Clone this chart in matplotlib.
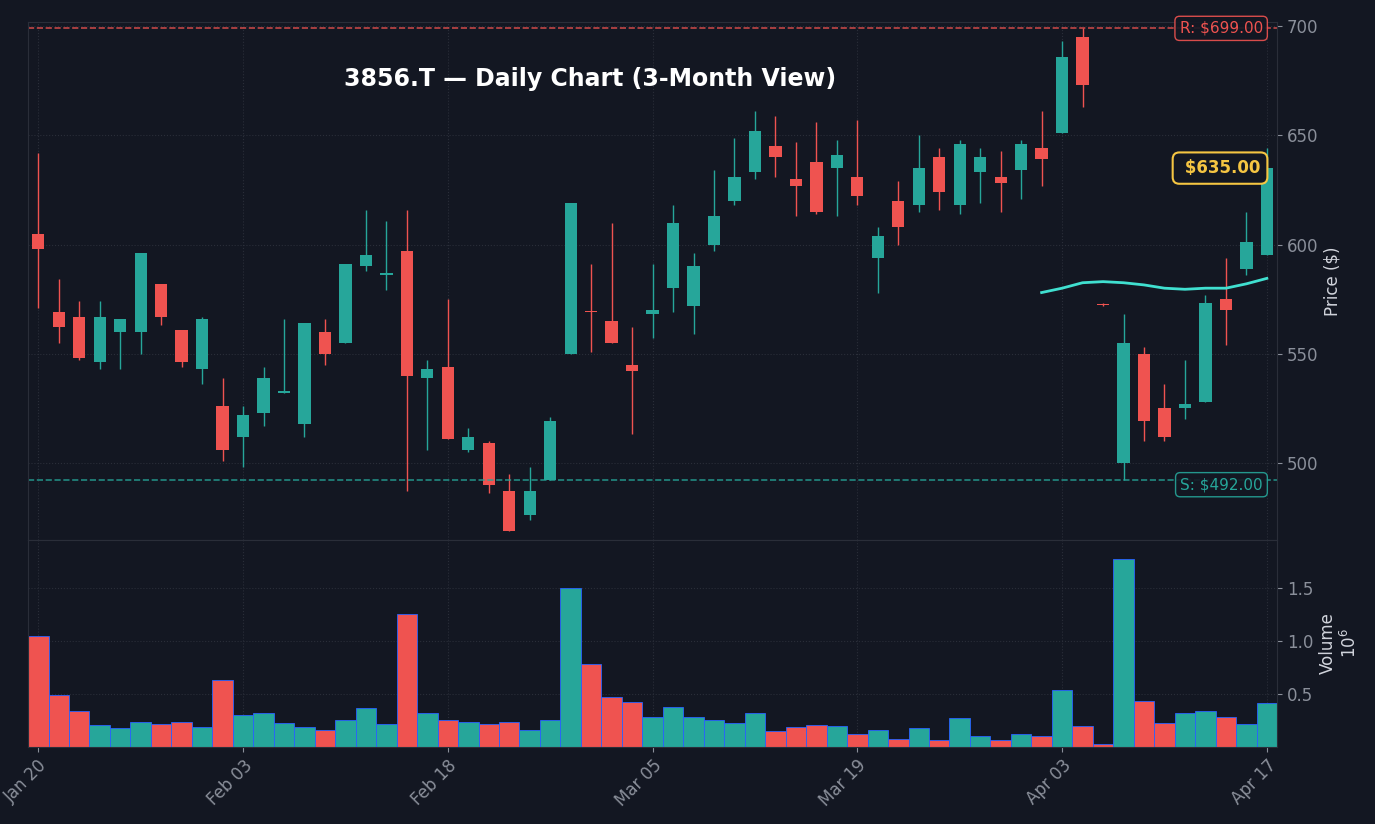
import numpy as np
import matplotlib.pyplot as plt

opens = [605, 569, 567, 546, 560, 560, 582, 561, 543, 526, 512, 523, 532, 518, 560, 555, 590, 586, 597, 539,
         544, 506, 509, 487, 476, 492, 550, 569.5, 565, 545, 568, 580, 572, 600, 620, 633, 645, 630, 638, 635,
         631, 594, 620, 618, 640, 618, 633, 631, 634, 644, 651, 695, 572.8, 500, 550, 525, 525, 528, 575, 589, 595]
closes = [598, 562, 548, 567, 566, 596, 567, 546, 566, 506, 522, 539, 533, 564, 550, 591, 595, 587, 540, 543,
          511, 512, 490, 469, 487, 519, 619, 569, 555, 542, 570, 610, 590, 613, 631, 652, 640, 627, 615, 641,
          622, 604, 608, 635, 624, 646, 640, 628, 646, 639, 686, 673, 572.5, 555, 519, 512, 527, 573, 570, 601, 635]
highs = [642, 584, 574, 574, 566, 596, 582, 561, 567, 539, 526, 544, 566, 564, 566, 591, 616, 611, 616, 547,
         575, 516, 510, 495, 498, 521, 619, 591, 610, 562, 591, 618, 596, 634, 649, 661, 659, 647, 656, 648,
         657, 608, 629, 650, 644, 648, 644, 643, 648, 661, 693, 699, 573, 568, 553, 536, 547, 577, 594, 615, 644]
lows = [571, 555, 547, 543, 543, 550, 563, 544, 536, 501, 498, 517, 532, 512, 545, 555, 588, 579, 487, 506,
        511, 505, 486, 469, 474, 492, 550, 551, 555, 513, 557, 569, 559, 597, 618, 630, 631, 613, 614, 613,
        618, 578, 600, 615, 616, 614, 619, 615, 621, 627, 651, 663, 572, 492, 510, 510, 520, 528, 554, 586, 595]
volumes = [1.04, 0.49, 0.34, 0.21, 0.18, 0.24, 0.22, 0.24, 0.19, 0.63, 0.30, 0.32, 0.23, 0.19, 0.16, 0.25,
           0.37, 0.22, 1.25, 0.32, 0.25, 0.24, 0.22, 0.24, 0.16, 0.25, 1.50, 0.78, 0.47, 0.42, 0.28, 0.38,
           0.28, 0.25, 0.23, 0.32, 0.15, 0.19, 0.21, 0.20, 0.12, 0.16, 0.08, 0.18, 0.07, 0.27, 0.10, 0.07,
           0.12, 0.10, 0.54, 0.20, 0.03, 1.77, 0.43, 0.23, 0.32, 0.34, 0.28, 0.22, 0.41]
ma_start = 49
ma_values = [578, 580, 582.5, 583, 582.5, 581.5, 580, 579.5, 580, 580, 582, 584.5]
tick_idx = [0, 10, 20, 30, 40, 50, 60]
tick_labels = ['Jan 20', 'Feb 03', 'Feb 18', 'Mar 05', 'Mar 19', 'Apr 03', 'Apr 17']
resistance, support, last_price = 699.0, 492.0, 635.0

bg = '#131722'
up, down = '#26a69a', '#ef5350'
grid_c = '#2a2e39'
txt = '#8a8f9a'

fig = plt.figure(figsize=(13.75, 8.24), dpi=100, facecolor=bg)
ax = fig.add_axes([0.0204, 0.345, 0.9084, 0.628])
axv = fig.add_axes([0.0204, 0.0934, 0.9084, 0.2516], sharex=ax)
for a in (ax, axv):
    a.set_facecolor(bg)
    a.set_axisbelow(True)
    for s in a.spines.values():
        s.set_color(grid_c)
    a.grid(True, color=grid_c, linestyle=':', linewidth=0.8)
    a.yaxis.tick_right()
    a.yaxis.set_label_position('right')
    a.tick_params(colors=txt, labelsize=12)

x = np.arange(len(opens))
colors = [up if c >= o else down for o, c in zip(opens, closes)]
for i in x:
    ax.vlines(i, lows[i], highs[i], color=colors[i], linewidth=1)
    b0 = min(opens[i], closes[i])
    h = max(abs(closes[i] - opens[i]), 0.4)
    ax.bar(i, h, bottom=b0, width=0.6, color=colors[i])

ax.plot(np.arange(ma_start, ma_start + len(ma_values)), ma_values, color='#40e0d0', linewidth=2)
ax.axhline(resistance, color=down, linestyle='--', linewidth=1.2, alpha=0.8)
ax.axhline(support, color=up, linestyle='--', linewidth=1.2, alpha=0.8)
ax.text(59.8, resistance, f'R: ${resistance:.2f}', color=down, fontsize=11, ha='right', va='center',
        bbox=dict(boxstyle='round,pad=0.3', fc=bg, ec=down, alpha=0.9))
ax.text(59.8, support - 2, f'S: ${support:.2f}', color=up, fontsize=11, ha='right', va='center',
        bbox=dict(boxstyle='round,pad=0.3', fc=bg, ec=up, alpha=0.9))
ax.text(59.7, last_price, f' ${last_price:.2f}', color='#f5c542', fontsize=12, fontweight='bold',
        ha='right', va='center', bbox=dict(boxstyle='round,pad=0.4', fc=bg, ec='#f5c542', lw=1.5))
ax.set_title('3856.T — Daily Chart (3-Month View)', color='white', fontsize=17, fontweight='bold',
             x=0.45, y=0.86)
ax.set_ylim(464.8, 701.8)
ax.set_yticks([500, 550, 600, 650, 700])
ax.set_ylabel('Price ($)', color='#d1d4dc', fontsize=12)
plt.setp(ax.get_xticklabels(), visible=False)
ax.tick_params(axis='x', length=0)

axv.bar(x, volumes, width=1.0, color=colors, edgecolor='#2962ff', linewidth=0.6)
axv.set_ylim(0, 1.95)
axv.set_yticks([0.5, 1.0, 1.5])
axv.set_ylabel('Volume\n$10^6$', color='#d1d4dc', fontsize=12)
axv.set_xlim(-0.5, 60.5)
axv.set_xticks(tick_idx)
axv.set_xticklabels(tick_labels, rotation=45, ha='right', rotation_mode='anchor')

fig.savefig('out.png', dpi=100, facecolor=bg)
